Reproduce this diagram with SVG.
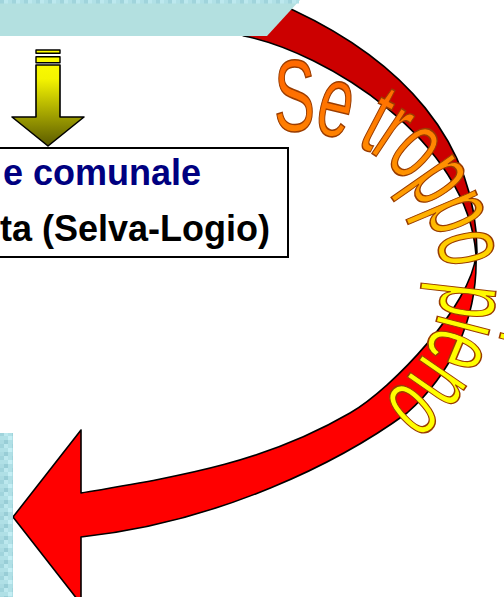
<svg xmlns="http://www.w3.org/2000/svg" width="504" height="597" viewBox="0 0 504 597">
<style>
.edge{stroke:#000;stroke-width:1.6;stroke-linejoin:round}
.box{fill:#fff;stroke:#000;stroke-width:2}
.t1{font-family:"Liberation Sans",Arial,sans-serif;font-weight:bold;font-size:36px}
.wa{font-family:"Liberation Sans",Arial,sans-serif;font-size:102px;letter-spacing:-5px;fill:url(#wa);stroke:#9a3c00;stroke-width:1.6}
</style>
<defs>
 <linearGradient id="yel" x1="0" y1="50" x2="0" y2="146" gradientUnits="userSpaceOnUse">
  <stop offset="0" stop-color="#ffff00"/>
  <stop offset="0.3" stop-color="#f4f400"/>
  <stop offset="1" stop-color="#5a5a00"/>
 </linearGradient>
 <linearGradient id="wa" x1="0" y1="80" x2="0" y2="300" gradientUnits="userSpaceOnUse">
  <stop offset="0" stop-color="#ff6a00"/>
  <stop offset="0.5" stop-color="#ff9a00"/>
  <stop offset="1" stop-color="#ffff00"/>
 </linearGradient>
 <pattern id="tex" width="12" height="12" patternUnits="userSpaceOnUse">
  <rect width="12" height="12" fill="#b0e0e6"/>
  <rect x="0" y="0" width="4" height="4" fill="#a0d4dc"/>
  <rect x="8" y="4" width="4" height="4" fill="#c4eef4"/>
  <rect x="4" y="8" width="4" height="4" fill="#98cdd6"/>
  <rect x="4" y="0" width="4" height="4" fill="#bce8ee"/>
  <rect x="0" y="8" width="4" height="4" fill="#aadbe2"/>
 </pattern>
 <path id="arc" d="M254.4,136.1 A149,149 0 0 1 436.9,241.4 A149,149 0 0 1 331.6,423.9"/>
</defs>

<g id="connectors">
 <g id="curved-arrow">
  <path class="edge" fill="#cc0000" d="M244,36 L200,16 L240,-14 L293,10 C400,60 477,140 477,253 L476,255 C468,140 325,52 244,36 Z"/>
  <path class="edge" fill="#ff0000" d="M476,255 C478,320 450,375 407,413 C340,462 220,522 81,537 L81,604 L13,517 L81,430 L81,493 C181,476 264,463 350,413 C393,388 471,305 476,255 Z"/>
 </g>
</g>

<g id="top-band">
 <polygon points="0,0 300,0 267,36 0,36" fill="#b3e0e0"/>
 <rect x="0" y="0" width="299" height="3.5" fill="url(#tex)"/>
</g>

<g id="down-arrow" class="edge" fill="url(#yel)">
 <rect x="36" y="50" width="24" height="3.3" stroke-width="1.4"/>
 <rect x="36" y="56.7" width="24" height="6" stroke-width="1.4"/>
 <polygon points="36,65 60,65 60,117 84,117 48,146 12,117 36,117"/>
</g>

<g id="info-box">
 <rect class="box" x="-10" y="148" width="298" height="109"/>
 <text class="t1" x="201" y="185" text-anchor="end" fill="#000080">e comunale</text>
 <text class="t1" x="270" y="241" text-anchor="end" fill="#000">ta (Selva-Logio)</text>
</g>

<g id="side-box">
 <rect x="0" y="433" width="13" height="164" fill="url(#tex)"/>
</g>

<g id="arrow-label">
 <text class="wa"><textPath href="#arc" startOffset="20" textLength="390" lengthAdjust="spacingAndGlyphs">Se troppo pieno</textPath></text>
</g>
</svg>
